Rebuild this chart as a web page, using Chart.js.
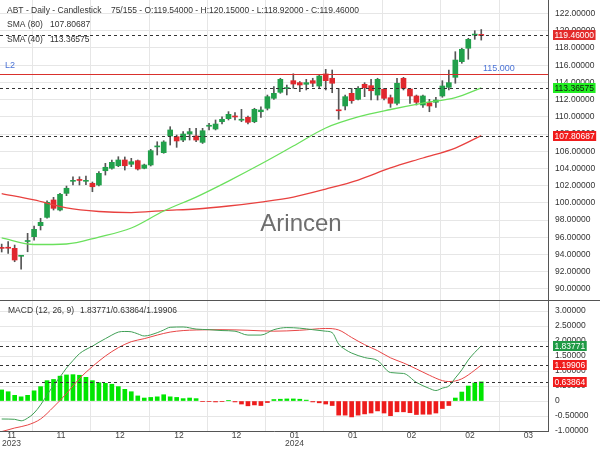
<!DOCTYPE html>
<html>
<head>
<meta charset="utf-8">
<script src="https://cdn.jsdelivr.net/npm/chart.js@4.4.1/dist/chart.umd.min.js"></script>
<style>
html, body { margin: 0; padding: 0; background: #fff; }
#wrap { position: relative; width: 600px; height: 450px; overflow: hidden; }
#main { position: absolute; left: 0; top: 0; }
#macd { position: absolute; left: 0; top: 300px; }
</style>
</head>
<body>
<div id="wrap">
  <canvas id="main" width="600" height="310" style="width:600px;height:310px"></canvas>
  <canvas id="macd" width="600" height="150" style="width:600px;height:150px"></canvas>
</div>
<script>
// ABT daily candles (75 visible)
const opens = [94.8, 94.78, 94.71, 93.78, 95.5, 96.06, 97.34, 98.31, 100.33, 99.16,
  101.1, 102.5, 102.65, 102.5, 102.27, 102.07, 103.73, 104.01, 104.31, 104.98,
  104.48, 104.9, 104.01, 104.4, 106.5, 105.83, 107.77, 107.69, 107.3, 108.0,
  107.77, 107.03, 108.9, 108.58, 109.43, 109.78, 110.05, 109.6, 109.94, 109.43,
  110.59, 110.99, 112.15, 112.85, 113.28, 114.2, 113.97, 113.78, 114.2, 113.58,
  114.98, 114.48, 110.75, 111.26, 112.73, 112.03, 113.78, 113.62, 112.53, 113.2,
  112.22, 111.57, 114.48, 113.23, 112.42, 111.37, 111.64, 111.69, 112.42, 113.43,
  114.59, 116.41, 117.97, 119.5, 119.54];
const highs = [95.2, 95.48, 95.09, 93.85, 96.45, 97.3, 98.2, 100.24, 100.64, 101.1,
  101.95, 103.03, 103.03, 103.1, 102.42, 103.62, 104.59, 104.98, 105.36, 105.33,
  105.17, 104.98, 104.5, 106.22, 107.1, 107.22, 108.85, 107.88, 108.27, 108.66,
  108.66, 108.66, 109.24, 109.63, 110.01, 110.6, 110.48, 110.87, 110.09, 110.99,
  111.17, 112.53, 113.5, 114.48, 113.7, 115.0, 114.1, 114.36, 114.48, 114.86,
  115.52, 115.44, 113.31, 112.53, 113.31, 113.5, 113.97, 114.36, 114.48, 113.31,
  112.53, 114.48, 114.59, 113.31, 112.53, 112.53, 112.03, 112.27, 114.2, 115.44,
  117.57, 117.97, 119.13, 120.01, 120.15];
const lows = [94.28, 94.13, 93.15, 92.27, 94.31, 95.67, 96.84, 98.2, 99.16, 99.05,
  100.83, 102.07, 102.07, 102.1, 101.29, 101.95, 103.23, 103.9, 104.2, 103.81,
  104.2, 103.81, 103.95, 104.28, 105.56, 105.76, 106.72, 106.45, 107.1, 107.3,
  107.1, 106.9, 108.47, 108.47, 109.16, 109.63, 109.63, 109.43, 109.16, 109.31,
  109.94, 110.79, 112.03, 112.73, 112.53, 113.31, 112.92, 113.12, 113.5, 113.31,
  113.12, 112.8, 109.71, 110.79, 111.57, 111.95, 112.34, 111.95, 111.95, 111.95,
  111.1, 111.37, 113.12, 111.57, 111.37, 111.1, 110.59, 111.1, 112.27, 113.12,
  113.9, 116.22, 116.69, 119.01, 118.92];
const closes = [94.7, 94.72, 93.35, 93.8, 95.6, 96.92, 97.73, 100.06, 99.36, 100.99,
  101.69, 102.55, 102.6, 102.55, 101.87, 103.43, 104.13, 104.71, 104.98, 104.31,
  104.78, 103.93, 104.4, 106.06, 106.55, 107.07, 108.47, 107.19, 108.0, 108.27,
  107.3, 108.38, 108.95, 109.16, 109.71, 110.29, 109.98, 109.66, 109.36, 110.87,
  110.79, 112.34, 112.73, 114.36, 113.33, 113.81, 113.7, 113.97, 113.9, 114.74,
  114.2, 113.9, 110.7, 112.34, 111.87, 113.31, 113.38, 113.03, 114.36, 112.15,
  111.57, 113.9, 113.31, 112.42, 111.69, 112.42, 111.26, 111.95, 113.58, 113.97,
  116.6, 117.85, 119.01, 119.55, 119.46];

// moving averages, read every 5 bars
const smaIdx = [0, 5, 10, 15, 20, 25, 30, 35, 40, 45, 50, 55, 60, 65, 70, 74];
const sma80 = [101.08, 100.33, 99.4, 98.99, 98.87, 99.1, 99.28, 99.63, 100.09, 100.67,
  101.6, 102.65, 104.05, 105.21, 106.37, 107.80687];
const sma40 = [95.91, 95.15, 95.21, 96.02, 97.07, 99.05, 100.67, 102.53, 104.51, 106.6,
  108.7, 109.98, 110.85, 111.6, 112.24, 113.36575];

// MACD (12, 26, 9)
const macdIdx = [0, 2, 3, 4, 5, 6, 7, 8, 9, 10, 11, 12, 13, 14, 15, 16, 17, 18, 19, 20,
  21, 22, 24, 25, 26, 28, 30, 32, 34, 36, 38, 40, 42, 44, 46, 48, 50, 51, 52, 53,
  54, 56, 58, 60, 62, 64, 66, 67, 68, 69, 70, 71, 72, 73, 74];
const macdLine = [-0.6, -0.61, -0.66, -0.57, -0.4, -0.13, 0.2, 0.52, 0.8, 1.1,
  1.35, 1.58, 1.72, 1.83, 1.96, 2.08, 2.2, 2.3, 2.32, 2.31,
  2.24, 2.17, 2.28, 2.37, 2.46, 2.47, 2.4, 2.38, 2.35, 2.33, 2.2, 2.2, 2.38, 2.45, 2.43,
  2.38, 2.33, 2.28, 1.9, 1.72, 1.6, 1.45, 1.35, 0.95, 0.92, 0.62, 0.42, 0.35, 0.43, 0.5,
  0.77, 1.04, 1.37, 1.62, 1.83771];
const sigIdx = [0, 2, 4, 6, 8, 10, 12, 14, 16, 18, 20, 22, 24, 26, 28, 30, 34, 38, 42,
  46, 50, 52, 54, 56, 58, 60, 62, 64, 66, 68, 69, 70, 71, 72, 73, 74];
const sigLine = [-1.02, -0.9, -0.8, -0.6, -0.2, 0.25, 0.75, 1.15, 1.5, 1.78, 1.98, 2.08,
  2.2, 2.3, 2.35, 2.37, 2.38, 2.36, 2.33, 2.36, 2.42, 2.37, 2.12, 1.88, 1.68, 1.44, 1.27,
  1.07, 0.86, 0.68, 0.65, 0.67, 0.74, 0.87, 1.03, 1.19906];
const hist = [0.37, 0.31, 0.19, 0.14, 0.19, 0.34, 0.48, 0.68, 0.72, 0.83,
  0.87, 0.88, 0.86, 0.79, 0.68, 0.61, 0.59, 0.56, 0.48, 0.39,
  0.31, 0.17, 0.10, 0.12, 0.14, 0.21, 0.14, 0.12, 0.08, 0.10,
  0.08, -0.02, -0.02, -0.03, -0.02, 0.01, -0.03, -0.10, -0.16, -0.13,
  -0.15, -0.05, 0.05, 0.06, 0.07, 0.07, 0.06, 0.03, -0.03, -0.06,
  -0.10, -0.15, -0.47, -0.47, -0.53, -0.47, -0.43, -0.40, -0.33, -0.40,
  -0.49, -0.36, -0.36, -0.39, -0.45, -0.44, -0.44, -0.40, -0.25, -0.15,
  0.10, 0.30, 0.50, 0.60, 0.63864];

// x axis (bar index) tick positions and labels
const tickIdx = [0.25, 9.15, 18.26, 27.36, 36.23, 45.19, 54.17, 63.24, 72.27, 81.27];
const tickLabels = [['       11', '       2023'], '11', '12', '12', '12', ['01', '2024'], '01', '02', '02', '03'];
const priceTicks = [90, 92, 94, 96, 98, 100, 102, 104, 106, 108, 110, 112, 114, 116, 118, 120, 122];
const macdTicks = [-1, -0.5, 0, 0.5, 1, 1.5, 2, 2.5, 3];
const level2 = 115;

const xMin = -0.26, xMax = 84.3;
const upColor = '#22a04b';
const downColor = '#e0282e';
const gridColor = '#e6e6e6';
const regular = "'Liberation Sans', Arial, sans-serif";
const idx = opens.map((_, i) => i);
const last = closes.length - 1;

function valueBox(ctx, x, y, text, bg, fg) {
    ctx.font = '8.5px ' + regular;
    const w = ctx.measureText(text).width + 3;
    ctx.fillStyle = bg;
    ctx.fillRect(x, Math.round(y) - 5, w, 10);
    ctx.fillStyle = fg;
    ctx.textAlign = 'left';
    ctx.textBaseline = 'middle';
    ctx.fillText(text, x + 1.5, Math.round(y) + 0.5);
}

function dashed(ctx, area, y) {
    ctx.save();
    ctx.strokeStyle = '#333';
    ctx.lineWidth = 1;
    ctx.setLineDash([3, 3]);
    ctx.beginPath();
    ctx.moveTo(area.left, Math.round(y) + 0.5);
    ctx.lineTo(area.right, Math.round(y) + 0.5);
    ctx.stroke();
    ctx.restore();
}

const mainOverlay = {
    id: 'mainOverlay',
    beforeDatasetsDraw(chart) {
        const ctx = chart.ctx;
        ctx.save();
        ctx.font = '24px ' + regular;
        ctx.fillStyle = '#6e6e6e';
        ctx.textAlign = 'center';
        ctx.textBaseline = 'middle';
        ctx.fillText('Arincen', 301, 224);
        ctx.restore();
    },
    afterDraw(chart) {
        const ctx = chart.ctx;
        const area = chart.chartArea;
        const y = chart.scales.y;
        ctx.save();
        // level line L2
        const ly = Math.round(y.getPixelForValue(level2)) + 0.5;
        ctx.strokeStyle = '#d9302c';
        ctx.lineWidth = 1;
        ctx.beginPath();
        ctx.moveTo(area.left, ly);
        ctx.lineTo(area.right, ly);
        ctx.stroke();
        ctx.fillStyle = '#4a72d6';
        ctx.font = '9px ' + regular;
        ctx.textBaseline = 'middle';
        ctx.textAlign = 'left';
        ctx.fillText('L2', 5, ly - 9);
        ctx.fillText(level2.toFixed(3), 483, ly - 6);

        dashed(ctx, area, y.getPixelForValue(closes[last]));
        dashed(ctx, area, y.getPixelForValue(sma40[sma40.length - 1]));
        dashed(ctx, area, y.getPixelForValue(sma80[sma80.length - 1]));

        const bx = area.right + 5;
        valueBox(ctx, bx, y.getPixelForValue(closes[last]), closes[last].toFixed(5),
            closes[last] >= opens[last] ? upColor : '#e32b2b', '#fff');
        valueBox(ctx, bx, y.getPixelForValue(sma40[sma40.length - 1]), sma40[sma40.length - 1].toFixed(5), '#22ee22', '#111');
        valueBox(ctx, bx, y.getPixelForValue(sma80[sma80.length - 1]), sma80[sma80.length - 1].toFixed(5), '#f01c1c', '#fff');

        // legend text
        ctx.fillStyle = '#333';
        ctx.font = '8.5px ' + regular;
        ctx.textAlign = 'left';
        ctx.fillText('ABT - Daily - Candlestick    75/155 - O:' + opens[last].toFixed(5) +
            ' - H:' + highs[last].toFixed(5) + ' - L:' + lows[last].toFixed(5) +
            ' - C:' + closes[last].toFixed(5), 7, 11);
        ctx.fillText('SMA (80)', 7, 25);
        ctx.fillText(sma80[sma80.length - 1].toFixed(5), 50, 25);
        ctx.fillText('SMA (40)', 7, 40);
        ctx.fillText(sma40[sma40.length - 1].toFixed(5), 50, 40);
        ctx.restore();
    }
};

const macdOverlay = {
    id: 'macdOverlay',
    afterDraw(chart) {
        const ctx = chart.ctx;
        const area = chart.chartArea;
        const y = chart.scales.y;
        const m = macdLine[macdLine.length - 1];
        const s = sigLine[sigLine.length - 1];
        const h = hist[hist.length - 1];
        ctx.save();
        ctx.strokeStyle = '#555';
        ctx.lineWidth = 1;
        ctx.beginPath();
        ctx.moveTo(0, 0.5);
        ctx.lineTo(600, 0.5);
        ctx.stroke();

        dashed(ctx, area, y.getPixelForValue(m));
        dashed(ctx, area, y.getPixelForValue(s));
        dashed(ctx, area, y.getPixelForValue(h));
        const bx = area.right + 5;
        valueBox(ctx, bx, y.getPixelForValue(m), m.toFixed(5), '#1f9a45', '#fff');
        valueBox(ctx, bx, y.getPixelForValue(s), s.toFixed(5), '#f01c1c', '#fff');
        valueBox(ctx, bx, y.getPixelForValue(h), h.toFixed(5), '#f01c1c', '#fff');

        ctx.fillStyle = '#333';
        ctx.font = '8.5px ' + regular;
        ctx.textAlign = 'left';
        ctx.textBaseline = 'middle';
        ctx.fillText('MACD (12, 26, 9)', 8, 11);
        ctx.fillText(m.toFixed(5) + '/' + h.toFixed(5) + '/' + s.toFixed(5), 80, 11);
        ctx.restore();
    }
};

function xScale(showTicks) {
    return {
        type: 'linear',
        min: xMin,
        max: xMax,
        offset: false,
        afterBuildTicks: s => { s.ticks = tickIdx.map(v => ({ value: v })); },
        afterFit: s => { s.height = showTicks ? 19 : 0; s.paddingLeft = 0; s.paddingRight = 0; },
        ticks: {
            display: showTicks,
            autoSkip: false,
            maxRotation: 0,
            padding: 1,
            color: '#444',
            font: { family: regular, size: 8.5, lineHeight: 0.95 },
            callback: (v, i) => tickLabels[i]
        },
        grid: { color: gridColor, drawTicks: false },
        border: { display: showTicks, color: '#555' }
    };
}

function yScale(min, max, ticks, fmt) {
    return {
        position: 'right',
        min: min,
        max: max,
        afterBuildTicks: s => { s.ticks = ticks.map(v => ({ value: v })); },
        afterFit: s => { s.width = 52; s.paddingTop = 0; s.paddingBottom = 0; },
        ticks: { padding: 7, color: '#333', font: { family: regular, size: 8.5 }, callback: fmt },
        grid: { color: gridColor, drawTicks: false },
        border: { display: true, color: '#555' }
    };
}

const common = {
    responsive: false,
    animation: false,
    events: [],
    plugins: { legend: { display: false }, tooltip: { enabled: false } }
};

new Chart(document.getElementById('main'), {
    type: 'bar',
    data: {
        datasets: [
            {
                type: 'line', label: 'SMA (40)', order: 0,
                data: smaIdx.map((x, i) => ({ x: x, y: sma40[i] })),
                borderColor: '#6ae05c', borderWidth: 1.3, pointRadius: 0, cubicInterpolationMode: 'monotone'
            },
            {
                type: 'line', label: 'SMA (80)', order: 0,
                data: smaIdx.map((x, i) => ({ x: x, y: sma80[i] })),
                borderColor: '#e8413f', borderWidth: 1.3, pointRadius: 0, cubicInterpolationMode: 'monotone'
            },
            {
                label: 'body', order: 1, grouped: false, barThickness: 5, minBarLength: 1,
                data: idx.map(i => ({ x: i, y: [opens[i], closes[i]] })),
                backgroundColor: c => closes[c.dataIndex] >= opens[c.dataIndex] ? upColor : downColor
            },
            {
                label: 'wick', order: 2, grouped: false, barThickness: 1,
                data: idx.map(i => ({ x: i, y: [lows[i], highs[i]] })),
                backgroundColor: '#555'
            }
        ]
    },
    options: Object.assign({}, common, {
        layout: { padding: { left: 0, right: 0, top: 0, bottom: 10 } },
        scales: {
            x: xScale(false),
            y: yScale(88.70, 123.58, priceTicks, v => v.toFixed(5))
        }
    }),
    plugins: [mainOverlay]
});

new Chart(document.getElementById('macd'), {
    type: 'bar',
    data: {
        datasets: [
            {
                type: 'line', label: 'MACD', order: 0,
                data: macdIdx.map((x, i) => ({ x: x, y: macdLine[i] })),
                borderColor: '#3f9f55', borderWidth: 1, pointRadius: 0, cubicInterpolationMode: 'monotone'
            },
            {
                type: 'line', label: 'Signal', order: 0,
                data: sigIdx.map((x, i) => ({ x: x, y: sigLine[i] })),
                borderColor: '#e84646', borderWidth: 1, pointRadius: 0, cubicInterpolationMode: 'monotone'
            },
            {
                label: 'Histogram', order: 1, grouped: false, barThickness: 4,
                data: idx.map(i => ({ x: i, y: hist[i] })),
                backgroundColor: c => hist[c.dataIndex] >= 0 ? '#00e600' : '#ee1c1c'
            }
        ]
    },
    options: Object.assign({}, common, {
        layout: { padding: 0 },
        scales: {
            x: xScale(true),
            y: yScale(-1.0, 3.37, macdTicks, v => v === 0 ? '0' : v.toFixed(5))
        }
    }),
    plugins: [macdOverlay]
});
</script>
</body>
</html>
